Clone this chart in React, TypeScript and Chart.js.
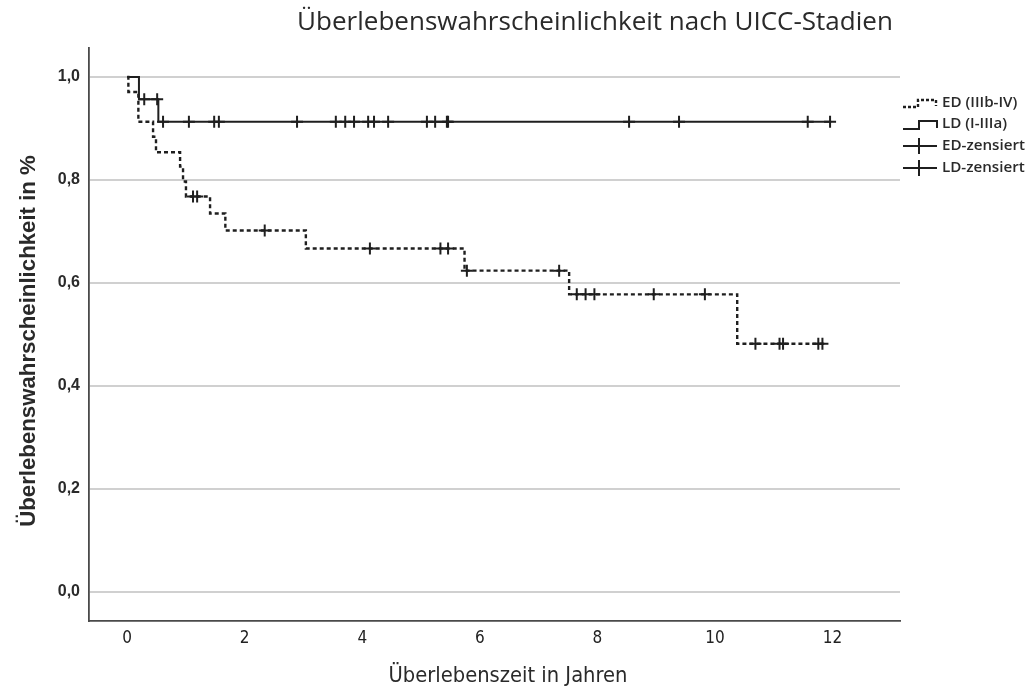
import React, { useEffect, useRef } from 'react';
import { Chart, registerables } from 'chart.js';

Chart.register(...registerables);

const titleText = 'Überlebenswahrscheinlichkeit nach UICC-Stadien';
const xTitleText = 'Überlebenszeit in Jahren';
const yTitleText = 'Überlebenswahrscheinlichkeit in %';
const legendLabels = ['ED (IIIb-IV)', 'LD (I-IIIa)', 'ED-zensiert', 'LD-zensiert'];

const xTicks = [0, 2, 4, 6, 8, 10, 12];
const yTicks = [0, 0.2, 0.4, 0.6, 0.8, 1.0];

// ED (IIIb-IV): event times (years) and survival after each step
const edTimes = [0, 0.02, 0.19, 0.44, 0.49, 0.9, 0.95, 1.0, 1.41, 1.67, 3.04, 5.74, 7.52, 10.38, 11.86];
const edSurv = [1.0, 0.971, 0.913, 0.884, 0.854, 0.826, 0.797, 0.768, 0.735, 0.702, 0.667, 0.624, 0.578, 0.482, 0.482];
const edCensored = [1.12, 1.19, 2.34, 4.13, 5.33, 5.46, 5.78, 7.35, 7.65, 7.8, 7.95, 8.96, 9.83, 10.69, 11.1, 11.16, 11.76, 11.83];

// LD (I-IIIa)
const ldTimes = [0, 0.2, 0.53, 11.98];
const ldSurv = [1.0, 0.957, 0.913, 0.913];
const ldCensored = [0.29, 0.51, 0.61, 1.05, 1.48, 1.56, 2.89, 3.55, 3.71, 3.86, 4.1, 4.2, 4.44, 5.1, 5.24, 5.44, 5.46, 8.54, 9.39, 11.58, 11.96];

const LINE = '#1f1f1f';
const TEXT = '#2a2a2a';

function survAt(times: number[], surv: number[], t: number) {
  let v = surv[0];
  for (let i = 0; i < times.length; i++) {
    if (times[i] <= t) v = surv[i];
  }
  return v;
}

function fitFont(ctx: CanvasRenderingContext2D, text: string, weight: string, family: string, target: number) {
  ctx.font = `${weight} 20px ${family}`;
  const w = ctx.measureText(text).width;
  return (20 * target) / w;
}

const overlayPlugin = {
  id: 'overlay',
  afterDraw(chart: any) {
    const ctx: CanvasRenderingContext2D = chart.ctx;
    ctx.save();
    ctx.fillStyle = TEXT;
    ctx.textBaseline = 'middle';

    // title
    const tFam = '"Open Sans", "Noto Sans", sans-serif';
    const tSize = fitFont(ctx, titleText, '500', tFam, 596);
    ctx.font = `500 ${tSize}px ${tFam}`;
    ctx.textAlign = 'center';
    ctx.fillText(titleText, 595, 23);

    // x title
    const xFam = '"DejaVu Sans Condensed", "DejaVu Sans", sans-serif';
    const xSize = fitFont(ctx, xTitleText, '400', xFam, 239);
    ctx.font = `400 ${xSize}px ${xFam}`;
    ctx.fillText(xTitleText, 508, 676);

    // y title
    const yFam = '"Liberation Sans", Arial, sans-serif';
    const ySize = fitFont(ctx, yTitleText, '700', yFam, 372);
    ctx.save();
    ctx.translate(29, 341);
    ctx.rotate(-Math.PI / 2);
    ctx.font = `700 ${ySize}px ${yFam}`;
    ctx.fillText(yTitleText, 0, 0);
    ctx.restore();

    // legend
    const lFam = '"Open Sans", "Noto Sans", sans-serif';
    const lSize = fitFont(ctx, legendLabels[2], '600', lFam, 83);
    ctx.font = `600 ${lSize}px ${lFam}`;
    ctx.textAlign = 'left';
    const rows = [103, 124, 146, 168];
    legendLabels.forEach((lab, i) => ctx.fillText(lab, 942, rows[i]));

    ctx.strokeStyle = LINE;
    ctx.lineWidth = 2.4;
    // ED dashed step
    ctx.setLineDash([3, 2]);
    ctx.beginPath();
    ctx.moveTo(903, 107);
    ctx.lineTo(918, 107);
    ctx.lineTo(918, 100);
    ctx.lineTo(936, 100);
    ctx.lineTo(936, 106);
    ctx.stroke();
    ctx.setLineDash([]);
    // LD solid step
    ctx.lineWidth = 2;
    ctx.beginPath();
    ctx.moveTo(903, 129);
    ctx.lineTo(919, 129);
    ctx.lineTo(919, 121);
    ctx.lineTo(937, 121);
    ctx.lineTo(937, 128);
    ctx.stroke();
    // censored symbols
    [146, 168].forEach((y) => {
      ctx.beginPath();
      ctx.moveTo(903, y);
      ctx.lineTo(937, y);
      ctx.moveTo(919, y - 8);
      ctx.lineTo(919, y + 8);
      ctx.stroke();
    });
    ctx.restore();
  },
};

export default function App() {
  const ref = useRef<HTMLCanvasElement | null>(null);

  useEffect(() => {
    document.body.style.margin = '0';
    const canvas = ref.current;
    if (!canvas) return;

    const edLine = edTimes.map((t, i) => ({ x: t, y: edSurv[i] }));
    const ldLine = ldTimes.map((t, i) => ({ x: t, y: ldSurv[i] }));
    const edCens = edCensored.map((t) => ({ x: t, y: survAt(edTimes, edSurv, t) }));
    const ldCens = ldCensored.map((t) => ({ x: t, y: survAt(ldTimes, ldSurv, t) }));

    const chart = new Chart(canvas, {
      type: 'line',
      data: {
        datasets: [
          {
            label: legendLabels[0],
            data: edLine,
            stepped: true,
            borderColor: LINE,
            borderWidth: 2.4,
            borderDash: [4, 3],
            pointRadius: 0,
            fill: false,
          },
          {
            label: legendLabels[1],
            data: ldLine,
            stepped: true,
            borderColor: LINE,
            borderWidth: 2,
            pointRadius: 0,
            fill: false,
          },
          {
            label: legendLabels[2],
            data: edCens,
            showLine: false,
            pointStyle: 'cross',
            pointRadius: 6,
            pointBorderWidth: 2,
            borderColor: LINE,
            pointBorderColor: LINE,
          },
          {
            label: legendLabels[3],
            data: ldCens,
            showLine: false,
            pointStyle: 'cross',
            pointRadius: 6,
            pointBorderWidth: 2,
            borderColor: LINE,
            pointBorderColor: LINE,
          },
        ],
      },
      options: {
        animation: false,
        responsive: false,
        devicePixelRatio: 1,
        layout: { padding: { left: 39, right: 132, top: 48, bottom: 0 } },
        plugins: {
          legend: { display: false },
          title: { display: false },
          tooltip: { enabled: false },
        },
        scales: {
          x: {
            type: 'linear',
            min: -0.65,
            max: 13.15,
            afterBuildTicks: (s: any) => {
              s.ticks = xTicks.map((v) => ({ value: v }));
            },
            afterFit: (s: any) => {
              s.height = 67;
            },
            grid: { display: false, drawTicks: false },
            border: { display: true, color: '#4a4a4a', width: 1.8 },
            ticks: {
              padding: 7,
              autoSkip: false,
              maxRotation: 0,
              color: '#222',
              font: { family: '"DejaVu Sans Condensed", "Liberation Sans", sans-serif', size: 17, weight: 'normal' },
              callback: (v: any) => String(v),
            },
          },
          y: {
            type: 'linear',
            min: -0.0563,
            max: 1.0563,
            afterBuildTicks: (s: any) => {
              s.ticks = yTicks.map((v) => ({ value: v }));
            },
            afterFit: (s: any) => {
              s.width = 50;
            },
            grid: { color: '#d0d0d0', lineWidth: 2, drawTicks: false },
            border: { display: true, color: '#4a4a4a', width: 1.8 },
            ticks: {
              padding: 9,
              color: TEXT,
              font: { family: '"Liberation Sans", Arial, sans-serif', size: 16, weight: 'bold' },
              callback: (v: any) => Number(v).toFixed(1).replace('.', ','),
            },
          },
        },
      },
      plugins: [overlayPlugin],
    });

    return () => chart.destroy();
  }, []);

  return (
    <div style={{ width: 1032, height: 688, background: '#fff' }}>
      <canvas ref={ref} width={1032} height={688} style={{ display: 'block' }} />
    </div>
  );
}
